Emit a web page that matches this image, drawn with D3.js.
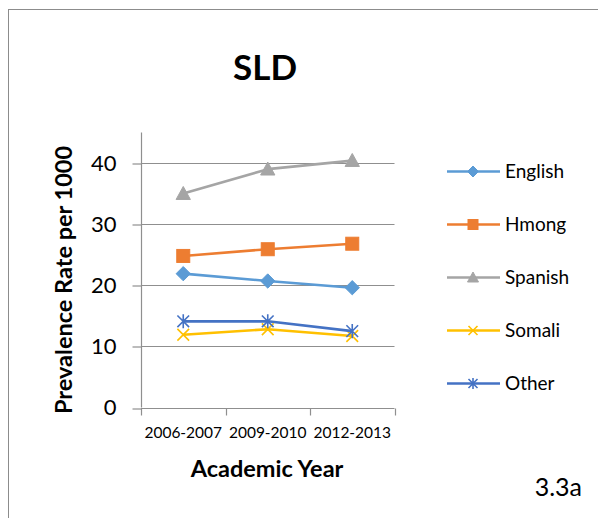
<!DOCTYPE html>
<html>
<head>
<meta charset="utf-8">
<script src="https://cdn.jsdelivr.net/npm/d3@7"></script>
<style>
  html, body { margin: 0; padding: 0; background: #fff; }
  svg { display: block; font-family: Lato, "Open Sans", sans-serif; }
</style>
</head>
<body>
<svg id="chart" width="598" height="518"></svg>
<script>
// Academic years on the x axis
const years = ["2006-2007", "2009-2010", "2012-2013"];

// Prevalence rate per 1000, by home language
const english = [21.9, 20.7, 19.6];
const hmong   = [24.8, 25.9, 26.8];
const spanish = [35.0, 39.0, 40.4];
const somali  = [11.9, 12.8, 11.7];
const other   = [14.1, 14.1, 12.5];

const seriesNames = ["English", "Hmong", "Spanish", "Somali", "Other"];
const yTicks = [0, 10, 20, 30, 40];

const series = [
  { name: seriesNames[0], values: english, color: "#5B9BD5", marker: "diamond" },
  { name: seriesNames[1], values: hmong,   color: "#ED7D31", marker: "square" },
  { name: seriesNames[2], values: spanish, color: "#A5A5A5", marker: "triangle" },
  { name: seriesNames[3], values: somali,  color: "#FFC000", marker: "x" },
  { name: seriesNames[4], values: other,   color: "#4472C4", marker: "star" }
];

const svg = d3.select("#chart");

// outer chart frame
svg.append("rect")
  .attr("x", 8.5).attr("y", 9.5)
  .attr("width", 640).attr("height", 560)
  .attr("fill", "none").attr("stroke", "#8c8c8c").attr("stroke-width", 1);

const plot = { left: 141, right: 394.5, top: 132.5, bottom: 407.5 };

const x = d3.scaleBand().domain(years).range([plot.left, plot.right]);
const y = d3.scaleLinear().domain([0, 45]).range([plot.bottom, plot.top]);

// horizontal gridlines
svg.append("g")
  .selectAll("line")
  .data(yTicks.filter(d => d > 0))
  .join("line")
  .attr("x1", plot.left).attr("x2", plot.right)
  .attr("y1", d => Math.round(y(d)) + 0.5).attr("y2", d => Math.round(y(d)) + 0.5)
  .attr("stroke", "#8f8f8f").attr("stroke-width", 1.2);

// y axis
const yAxis = svg.append("g")
  .attr("transform", `translate(${plot.left + 0.5},0)`)
  .call(d3.axisLeft(y).tickValues(yTicks).tickSize(9).tickPadding(16));
yAxis.select(".domain").attr("stroke", "#8f8f8f").attr("stroke-width", 1.2)
  .attr("d", `M-0,${plot.top}V${plot.bottom}`);
yAxis.selectAll(".tick line").attr("stroke", "#8f8f8f").attr("stroke-width", 1.2)
  .attr("transform", d => `translate(0,${Math.round(y(d)) + 0.5 - y(d)})`);
yAxis.selectAll(".tick text")
  .attr("font-family", "Lato, 'Open Sans', sans-serif")
  .attr("font-size", 22).attr("fill", "#000");

// x axis with tick marks at the band edges
const xAxisG = svg.append("g")
  .attr("transform", `translate(0,${Math.round(plot.bottom) + 0.5})`);
xAxisG.append("line")
  .attr("x1", plot.left).attr("x2", plot.right)
  .attr("stroke", "#8f8f8f").attr("stroke-width", 1.2);
const edges = years.map(d => x(d)).concat([x(years[years.length - 1]) + x.bandwidth()]);
xAxisG.selectAll("line.edge")
  .data(edges)
  .join("line")
  .attr("class", "edge")
  .attr("x1", d => Math.round(d) + 0.5).attr("x2", d => Math.round(d) + 0.5)
  .attr("y1", 0).attr("y2", 7)
  .attr("stroke", "#8f8f8f").attr("stroke-width", 1.2);
xAxisG.selectAll("text")
  .data(years)
  .join("text")
  .attr("x", d => x(d) + x.bandwidth() / 2)
  .attr("y", 29)
  .attr("text-anchor", "middle")
  .attr("font-size", 15.5)
  .attr("fill", "#000")
  .text(d => d);

// marker shapes
function drawMarker(g, type, color, size) {
  const s = size;
  if (type === "diamond") {
    g.append("path").attr("d", `M0,${-s * 0.55}L${s * 0.55},0L0,${s * 0.55}L${-s * 0.55},0Z`)
      .attr("fill", color).attr("stroke", color).attr("stroke-width", 1);
  } else if (type === "square") {
    g.append("rect").attr("x", -s / 2).attr("y", -s / 2).attr("width", s).attr("height", s)
      .attr("fill", color).attr("stroke", color).attr("stroke-width", 1);
  } else if (type === "triangle") {
    g.append("path").attr("d", `M0,${-s * 0.55}L${s * 0.55},${s * 0.45}L${-s * 0.55},${s * 0.45}Z`)
      .attr("fill", color).attr("stroke", color).attr("stroke-width", 1);
  } else if (type === "x") {
    const h = s * 0.45;
    g.append("path").attr("d", `M${-h},${-h}L${h},${h}M${h},${-h}L${-h},${h}`)
      .attr("stroke", color).attr("stroke-width", 1.6).attr("fill", "none");
  } else if (type === "star") {
    const h = s * 0.45;
    g.append("path").attr("d", `M${-h},${-h}L${h},${h}M${h},${-h}L${-h},${h}M0,${-h * 1.2}L0,${h * 1.2}`)
      .attr("stroke", color).attr("stroke-width", 1.6).attr("fill", "none");
  }
}

const line = d3.line()
  .x((d, i) => x(years[i]) + x.bandwidth() / 2)
  .y(d => y(d));

const seriesG = svg.append("g");
series.forEach(s => {
  seriesG.append("path")
    .datum(s.values)
    .attr("d", line)
    .attr("fill", "none")
    .attr("stroke", s.color)
    .attr("stroke-width", 2.6)
    .attr("stroke-linejoin", "round");
  s.values.forEach((v, i) => {
    const g = seriesG.append("g")
      .attr("transform", `translate(${x(years[i]) + x.bandwidth() / 2},${y(v)})`);
    drawMarker(g, s.marker, s.color, 13);
  });
});

// legend
const legend = svg.append("g");
series.forEach((s, i) => {
  const ly = 171.5 + i * 53;
  const g = legend.append("g").attr("transform", `translate(0,${ly})`);
  g.append("line").attr("x1", 447).attr("x2", 500).attr("y1", 0).attr("y2", 0)
    .attr("stroke", s.color).attr("stroke-width", 2.6);
  const m = g.append("g").attr("transform", "translate(473,0)");
  drawMarker(m, s.marker, s.color, 10);
  g.append("text").attr("x", 505).attr("y", 0).attr("dy", "0.35em")
    .attr("font-size", 19).attr("fill", "#000").text(s.name);
});

// titles
svg.append("text")
  .attr("x", 265).attr("y", 80)
  .attr("text-anchor", "middle")
  .attr("font-size", 35).attr("font-weight", "bold").attr("fill", "#000")
  .text("SLD");

svg.append("text")
  .attr("transform", "translate(72,280) rotate(-90)")
  .attr("text-anchor", "middle")
  .attr("font-size", 23.5).attr("font-weight", "bold").attr("fill", "#000")
  .text("Prevalence Rate per 1000");

svg.append("text")
  .attr("x", 267).attr("y", 477)
  .attr("text-anchor", "middle")
  .attr("font-size", 23.5).attr("font-weight", "bold").attr("fill", "#000")
  .text("Academic Year");

svg.append("text")
  .attr("x", 582).attr("y", 496)
  .attr("text-anchor", "end")
  .attr("font-size", 25).attr("fill", "#000")
  .text("3.3a");
</script>
</body>
</html>
